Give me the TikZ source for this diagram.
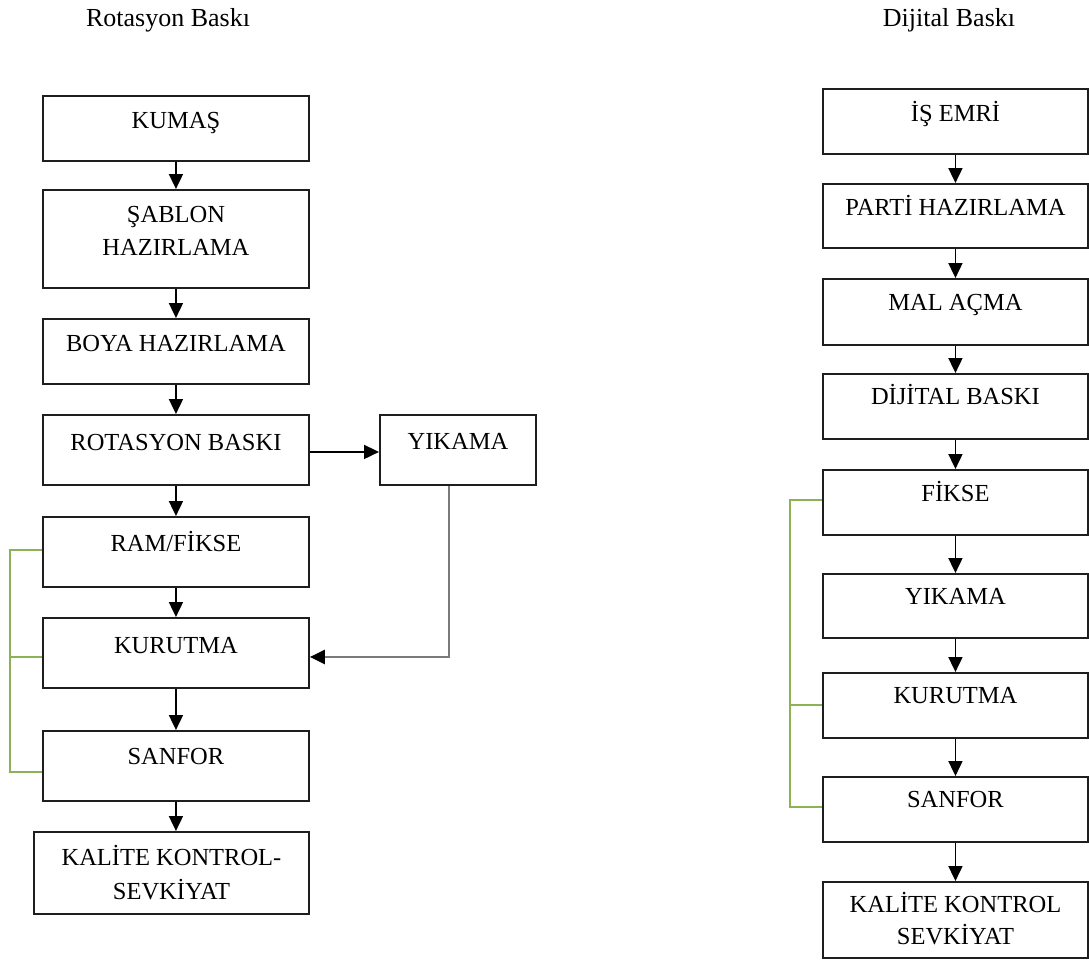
\documentclass[tikz,border=0pt]{standalone}
\usepackage{fontspec}
\setmainfont{Liberation Serif}
\usetikzlibrary{arrows.meta,calc}
\definecolor{boxline}{HTML}{1E1E1E}
\definecolor{brgreen}{HTML}{8DB255}
\definecolor{backgray}{HTML}{7A7A7A}
\begin{document}
\begin{tikzpicture}[x=1pt,y=-1pt,
  box/.style={draw=boxline,line width=1.9pt,anchor=north west,inner sep=0pt,minimum width=266pt},
  txt/.style={anchor=base,inner sep=0pt,font=\fontsize{24.5}{33}\selectfont},
  ttl/.style={anchor=base,inner sep=0pt,font=\fontsize{26}{30}\selectfont},
  arr/.style={line width=1.8pt,draw=black,-{Triangle[length=15pt,width=14pt]}},
  brk/.style={line width=2pt,draw=brgreen},
  back/.style={line width=2.6pt,draw=backgray,-{Triangle[length=15pt,width=14pt,color=black]}}]
\useasboundingbox (0,0) rectangle (1089,959);

% titles
\node[ttl] (t1) at (168,26) {Rotasyon Baskı};
\node[ttl] (t2) at (949,26) {Dijital Baskı};

% left column
\node[box,minimum height=65pt] (kumas) at (42,95) {};
\node[box,minimum height=98pt] (sablon) at (42,189) {};
\node[box,minimum height=65pt] (boya) at (42,318) {};
\node[box,minimum height=70pt] (rot) at (42,414) {};
\node[box,minimum height=70pt] (ram) at (42,516) {};
\node[box,minimum height=70pt] (kur) at (42,617) {};
\node[box,minimum height=70pt] (sanfor) at (42,730) {};
\node[box,minimum width=275pt,minimum height=82pt] (kalite) at (33,831) {};
\node[box,minimum width=156pt,minimum height=70pt] (yik) at (379,414) {};

\node[txt] (kumasT) at ($(kumas.north)+(0,33)$) {KUMAŞ};
\node[txt] (sablonT1) at ($(sablon.north)+(0,33)$) {ŞABLON};
\node[txt] (sablonT2) at ($(sablon.north)+(0,66)$) {HAZIRLAMA};
\node[txt] (boyaT) at ($(boya.north)+(0,33)$) {BOYA HAZIRLAMA};
\node[txt] (rotT) at ($(rot.north)+(0,36)$) {ROTASYON BASKI};
\node[txt] (ramT) at ($(ram.north)+(0,35)$) {RAM/FİKSE};
\node[txt] (kurT) at ($(kur.north)+(0,36)$) {KURUTMA};
\node[txt] (sanforT) at ($(sanfor.north)+(0,34)$) {SANFOR};
\node[txt] (kaliteT1) at ($(kalite.north)+(0,34)$) {KALİTE KONTROL-};
\node[txt] (kaliteT2) at ($(kalite.north)+(0,68)$) {SEVKİYAT};
\node[txt] (yikT) at ($(yik.north)+(0,35)$) {YIKAMA};

\draw[arr] (kumas) -- (sablon);
\draw[arr] (sablon) -- (boya);
\draw[arr] (boya) -- (rot);
\draw[arr] (rot) -- (ram);
\draw[arr] (ram) -- (kur);
\draw[arr] (kur) -- (sanfor);
\draw[arr] (sanfor.south) -- (sanfor.south |- kalite.north);
\draw[arr] ($(rot.east)+(0,2)$) -- ($(yik.west)+(0,2)$);
\coordinate (yb) at ($(yik.south)+(-9,0)$);
\draw[back] (yb) |- ($(kur.east)+(0,4)$);

\coordinate (lb) at (10,0);
\draw[brk] ($(ram.west)+(0,-2)$) -| ($(lb |- sanfor.west)+(0,6)$) -- ($(sanfor.west)+(0,6)$);
\draw[brk] (lb |- kur.west) ++(0,4) -- ($(kur.west)+(0,4)$);

% right column
\node[box,minimum width=265pt,minimum height=65pt] (isemri) at (822,88) {};
\node[box,minimum width=265pt,minimum height=64pt] (parti) at (822,183) {};
\node[box,minimum width=265pt,minimum height=66pt] (mal) at (822,278) {};
\node[box,minimum width=265pt,minimum height=65pt] (dij) at (822,373) {};
\node[box,minimum width=265pt,minimum height=65pt] (fik) at (822,469) {};
\node[box,minimum width=265pt,minimum height=64pt] (yik2) at (822,573) {};
\node[box,minimum width=265pt,minimum height=65pt] (kur2) at (822,672) {};
\node[box,minimum width=265pt,minimum height=65pt] (san2) at (822,776) {};
\node[box,minimum width=265pt,minimum height=76pt] (kal2) at (822,881) {};

\node[txt] (isemriT) at ($(isemri.north)+(0,33)$) {İŞ EMRİ};
\node[txt] (partiT) at ($(parti.north)+(0,32)$) {PARTİ HAZIRLAMA};
\node[txt] (malT) at ($(mal.north)+(0,32)$) {MAL AÇMA};
\node[txt] (dijT) at ($(dij.north)+(0,31)$) {DİJİTAL BASKI};
\node[txt] (fikT) at ($(fik.north)+(0,32)$) {FİKSE};
\node[txt] (yik2T) at ($(yik2.north)+(0,31)$) {YIKAMA};
\node[txt] (kur2T) at ($(kur2.north)+(0,31)$) {KURUTMA};
\node[txt] (san2T) at ($(san2.north)+(0,31)$) {SANFOR};
\node[txt] (kal2T1) at ($(kal2.north)+(0,31)$) {KALİTE KONTROL};
\node[txt] (kal2T2) at ($(kal2.north)+(0,63)$) {SEVKİYAT};

\draw[arr] (isemri) -- (parti);
\draw[arr] (parti) -- (mal);
\draw[arr] (mal) -- (dij);
\draw[arr] (dij) -- (fik);
\draw[arr] (fik) -- (yik2);
\draw[arr] (yik2) -- (kur2);
\draw[arr] (kur2) -- (san2);
\draw[arr] (san2) -- (kal2);

\coordinate (rb) at (790,0);
\draw[brk] ($(fik.west)+(0,-2)$) -| ($(rb |- san2.west)+(0,-2)$) -- ($(san2.west)+(0,-2)$);
\draw[brk] (rb |- kur2.west) -- (kur2.west);
\end{tikzpicture}
\end{document}
